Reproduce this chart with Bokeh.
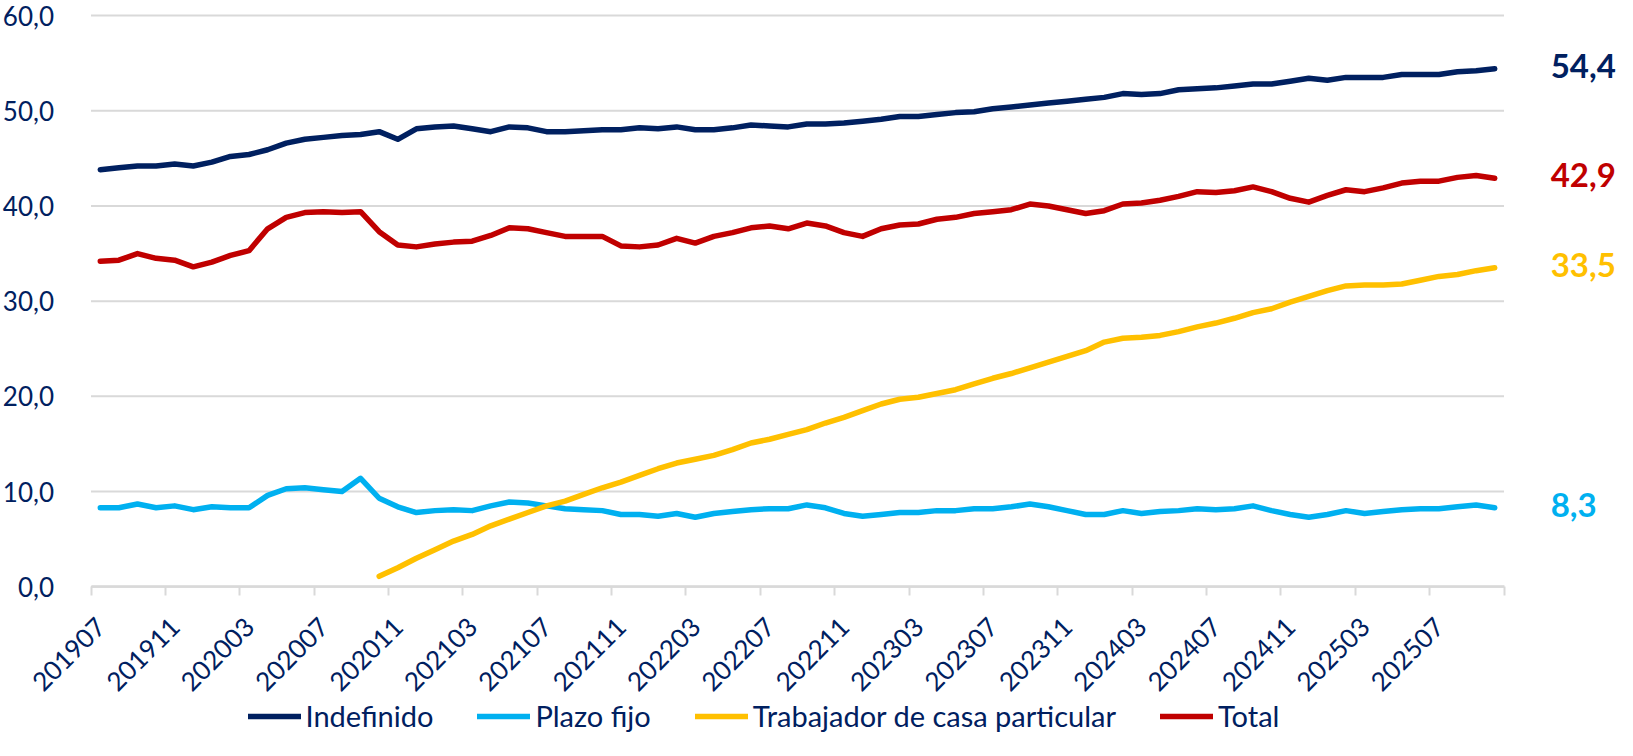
from bokeh.plotting import figure
from bokeh.models import Range1d, FixedTicker, Legend, LegendItem
from bokeh.core.properties import value
from bokeh.embed import file_html
from bokeh.resources import INLINE
import math

# ---------------- data ----------------
months = [f"{2019 + (6 + k) // 12}{(6 + k) % 12 + 1:02d}" for k in range(76)]  # 201907 .. 202510

indefinido = [43.8, 44.0, 44.2, 44.2, 44.4, 44.2, 44.6, 45.2, 45.4, 45.9,
              46.6, 47.0, 47.2, 47.4, 47.5, 47.8, 47.0, 48.1, 48.3, 48.4,
              48.1, 47.8, 48.3, 48.2, 47.8, 47.8, 47.9, 48.0, 48.0, 48.2,
              48.1, 48.3, 48.0, 48.0, 48.2, 48.5, 48.4, 48.3, 48.6, 48.6,
              48.7, 48.9, 49.1, 49.4, 49.4, 49.6, 49.8, 49.9, 50.2, 50.4,
              50.6, 50.8, 51.0, 51.2, 51.4, 51.8, 51.7, 51.8, 52.2, 52.3,
              52.4, 52.6, 52.8, 52.8, 53.1, 53.4, 53.2, 53.5, 53.5, 53.5,
              53.8, 53.8, 53.8, 54.1, 54.2, 54.4]

plazo_fijo = [8.3, 8.3, 8.7, 8.3, 8.5, 8.1, 8.4, 8.3, 8.3, 9.6,
              10.3, 10.4, 10.2, 10.0, 11.4, 9.3, 8.4, 7.8, 8.0, 8.1,
              8.0, 8.5, 8.9, 8.8, 8.5, 8.2, 8.1, 8.0, 7.6, 7.6,
              7.4, 7.7, 7.3, 7.7, 7.9, 8.1, 8.2, 8.2, 8.6, 8.3,
              7.7, 7.4, 7.6, 7.8, 7.8, 8.0, 8.0, 8.2, 8.2, 8.4,
              8.7, 8.4, 8.0, 7.6, 7.6, 8.0, 7.7, 7.9, 8.0, 8.2,
              8.1, 8.2, 8.5, 8.0, 7.6, 7.3, 7.6, 8.0, 7.7, 7.9,
              8.1, 8.2, 8.2, 8.4, 8.6, 8.3]

# Trabajador de casa particular starts in 202010
trabajador_start = "202010"
trabajador = [1.1, 2.0, 3.0, 3.9, 4.8, 5.5, 6.4, 7.1, 7.8, 8.5,
              9.0, 9.7, 10.4, 11.0, 11.7, 12.4, 13.0, 13.4, 13.8, 14.4,
              15.1, 15.5, 16.0, 16.5, 17.2, 17.8, 18.5, 19.2, 19.7, 19.9,
              20.3, 20.7, 21.3, 21.9, 22.4, 23.0, 23.6, 24.2, 24.8, 25.7,
              26.1, 26.2, 26.4, 26.8, 27.3, 27.7, 28.2, 28.8, 29.2, 29.9,
              30.5, 31.1, 31.6, 31.7, 31.7, 31.8, 32.2, 32.6, 32.8, 33.2,
              33.5]

total = [34.2, 34.3, 35.0, 34.5, 34.3, 33.6, 34.1, 34.8, 35.3, 37.6,
         38.8, 39.3, 39.4, 39.3, 39.4, 37.3, 35.9, 35.7, 36.0, 36.2,
         36.3, 36.9, 37.7, 37.6, 37.2, 36.8, 36.8, 36.8, 35.8, 35.7,
         35.9, 36.6, 36.1, 36.8, 37.2, 37.7, 37.9, 37.6, 38.2, 37.9,
         37.2, 36.8, 37.6, 38.0, 38.1, 38.6, 38.8, 39.2, 39.4, 39.6,
         40.2, 40.0, 39.6, 39.2, 39.5, 40.2, 40.3, 40.6, 41.0, 41.5,
         41.4, 41.6, 42.0, 41.5, 40.8, 40.4, 41.1, 41.7, 41.5, 41.9,
         42.4, 42.6, 42.6, 43.0, 43.2, 42.9]

tick_labels = ["201907", "201911", "202003", "202007", "202011", "202103",
               "202107", "202111", "202203", "202207", "202211", "202303",
               "202307", "202311", "202403", "202407", "202411", "202503",
               "202507"]
y_ticks = [0, 10, 20, 30, 40, 50, 60]

series_names = ["Indefinido", "Plazo fijo", "Trabajador de casa particular", "Total"]
series_colors = ["#002060", "#00B0F0", "#FFC000", "#C00000"]

# ---------------- figure ----------------
TEXT = "#002060"
GRID = "#D9D9D9"
FONT = "Lato"

W, H = 1617, 740
LEFT, TOP = 90.5, 15      # pixel position of the plot area's top-left corner
AXIS_PX = 1413.0          # pixel width of the category axis
ZERO_PX = 586.3           # pixel row of the value 0 (from the top of the figure)

n = len(months)
xc = [i + 0.5 for i in range(n)]          # category centres
t0 = months.index(trabajador_start)
x_trab = xc[t0:t0 + len(trabajador)]

y_top = y_ticks[-1]
px_per_unit = (ZERO_PX - TOP) / y_top
px_per_cat = AXIS_PX / n
# the frame covers the whole canvas; axes sit at the data origin
x_start = -LEFT / px_per_cat
x_end = (W - LEFT) / px_per_cat
y_min = -(H - ZERO_PX) / px_per_unit
y_max = y_top + TOP / px_per_unit

p = figure(width=W, height=H, output_backend="svg", toolbar_location=None,
           x_range=Range1d(x_start, x_end), y_range=Range1d(y_min, y_max),
           min_border_left=0, min_border_right=0, min_border_top=0,
           min_border_bottom=0)
p.outline_line_color = None
p.background_fill_color = "white"
p.border_fill_color = "white"

# horizontal grid lines, limited to the category axis
p.xgrid.visible = False
p.ygrid.visible = False
p.segment(x0=[0] * len(y_ticks), x1=[n] * len(y_ticks), y0=y_ticks, y1=y_ticks,
          line_color=GRID, line_width=2)

# x axis sitting on the value 0
label_pos = [months.index(t) + 0.5 for t in tick_labels]
xa = p.xaxis[0]
xa.fixed_location = 0
xa.bounds = (0, n)
xa.ticker = FixedTicker(ticks=label_pos, minor_ticks=list(range(0, n + 1, 4)))
xa.major_label_overrides = {pos: lab for pos, lab in zip(label_pos, tick_labels)}
xa.major_label_orientation = math.pi / 4
xa.major_label_text_font = FONT
xa.major_label_text_font_size = "26px"
xa.major_label_text_color = TEXT
xa.major_label_standoff = 26
xa.major_tick_line_color = None
xa.major_tick_out = 0
xa.major_tick_in = 0
xa.minor_tick_line_color = GRID
xa.minor_tick_line_width = 2
xa.minor_tick_out = 9
xa.minor_tick_in = 0
xa.axis_line_color = GRID
xa.axis_line_width = 2.5

# y axis at the left edge of the category axis
ya = p.yaxis[0]
ya.fixed_location = 0
ya.ticker = FixedTicker(ticks=y_ticks)
ya.major_label_overrides = {v: f"{v:.1f}".replace(".", ",") for v in y_ticks}
ya.major_label_text_font = FONT
ya.major_label_text_font_size = "26px"
ya.major_label_text_color = TEXT
ya.major_label_standoff = 31
ya.axis_line_color = None
ya.major_tick_line_color = None
ya.minor_tick_line_color = None

# lines
series_x = [xc, xc, x_trab, xc]
series_y = [indefinido, plazo_fijo, trabajador, total]
renderers = []
for xs, ys, c in zip(series_x, series_y, series_colors):
    r = p.line(xs, ys, line_color=c, line_width=5.5, line_join="round",
               line_cap="round")
    renderers.append(r)

# end labels
for xs, ys, c in zip(series_x, series_y, series_colors):
    p.text(x=[xs[-1]], y=[ys[-1]], text=[f"{ys[-1]:.1f}".replace(".", ",")],
           x_offset=56, y_offset=-3, text_font=value(FONT),
           text_font_size="33px", text_font_style="bold", text_color=c,
           text_align="left", text_baseline="middle")

# legend under the axis labels
legend = Legend(items=[LegendItem(label=nm, renderers=[r])
                       for nm, r in zip(series_names, renderers)],
                orientation="horizontal", location=(LEFT + 157, 7),
                border_line_color=None, background_fill_alpha=0,
                padding=0, margin=0, spacing=44, glyph_width=53,
                glyph_height=30, label_height=30, label_standoff=5,
                label_text_font=FONT, label_text_font_size="29px",
                label_text_color=TEXT)
p.add_layout(legend, "center")

open("out.html", "w").write(file_html(p, INLINE))
